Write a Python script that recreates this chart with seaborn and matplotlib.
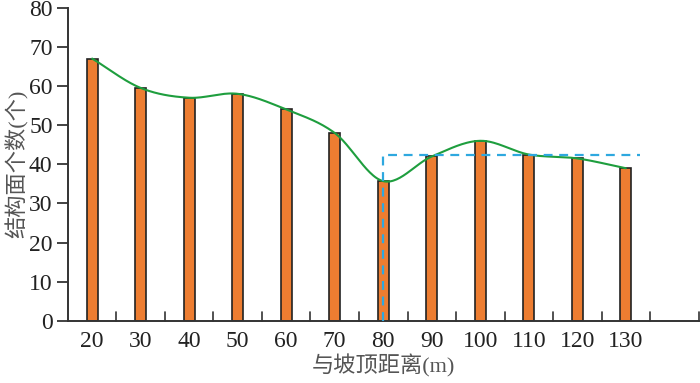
import numpy as np
import pandas as pd
import matplotlib
matplotlib.use("Agg")
import matplotlib.pyplot as plt
import seaborn as sns

# 数据
distances = [20, 30, 40, 50, 60, 70, 80, 90, 100, 110, 120, 130]
counts = [67, 59.5, 57, 58, 54, 48, 35.7, 42, 46, 42.5, 41.5, 39]
ref_level = 42.3          # 蓝色虚线的水平
ref_start = 80            # 虚线起点距离
ref_end_pos = 11.3        # 虚线终点(类别位置)

sns.set_theme(style="white")
plt.rcParams["font.family"] = ["Liberation Serif", "Noto Sans CJK SC"]
plt.rcParams["font.size"] = 17

df = pd.DataFrame({"dist": [str(d) for d in distances], "count": counts})

fig = plt.figure(figsize=(7, 3.83), dpi=100)
ax = fig.add_axes([0.097, 0.162, 0.901, 0.818])

sns.barplot(data=df, x="dist", y="count", color="#ED7D31", saturation=1,
            width=0.23, edgecolor="#222222", linewidth=1.2, ax=ax, zorder=2)


# 平滑曲线 (Catmull-Rom, 类似 Excel 的平滑线)
def smooth(xs, ys, n=30):
    xs = np.asarray(xs, float)
    ys = np.asarray(ys, float)
    px = np.concatenate([[2 * xs[0] - xs[1]], xs, [2 * xs[-1] - xs[-2]]])
    py = np.concatenate([[2 * ys[0] - ys[1]], ys, [2 * ys[-1] - ys[-2]]])
    outx, outy = [], []
    t = np.linspace(0, 1, n)
    for i in range(1, len(px) - 2):
        for arr, out in ((px, outx), (py, outy)):
            p0, p1, p2, p3 = arr[i - 1], arr[i], arr[i + 1], arr[i + 2]
            out.extend(0.5 * ((2 * p1) + (-p0 + p2) * t
                              + (2 * p0 - 5 * p1 + 4 * p2 - p3) * t ** 2
                              + (-p0 + 3 * p1 - 3 * p2 + p3) * t ** 3))
    return np.array(outx), np.array(outy)


pos = np.arange(len(distances))
sx, sy = smooth(pos, counts)
ax.plot(sx, sy, color="#1E9E3E", lw=1.5, zorder=3)

# 蓝色虚线
i80 = distances.index(ref_start)
ax.plot([i80, i80, ref_end_pos], [0, ref_level, ref_level], color="#2EA8DF",
        lw=1.6, ls=(0, (4, 3)), zorder=4)

ax.set_xlim(-0.5, 12.5)
ax.set_ylim(0, 80)
ax.set_yticks(range(0, 81, 10))
ax.set_xticks(pos)
ax.set_xticklabels([str(d) for d in distances])
ax.tick_params(axis="x", length=0, pad=7, labelsize=17, colors="#222222")
ax.tick_params(axis="y", direction="out", length=8, width=1.2, pad=3,
               labelsize=17, colors="#222222", left=True)
for lbl in ax.get_yticklabels():
    lbl.set_verticalalignment("center_baseline")
for b in np.arange(0.5, 12.6, 1):
    ax.plot([b, b], [0, 2.2], color="#333333", lw=1.2, clip_on=False, zorder=5)

for s in ["top", "right"]:
    ax.spines[s].set_visible(False)
for s in ["left", "bottom"]:
    ax.spines[s].set_color("#333333")
    ax.spines[s].set_linewidth(1.4)

ax.set_xlabel("与坡顶距离(m)", fontsize=16, color="#555555", labelpad=2)
ax.set_ylabel("结构面个数(个)", fontsize=16, color="#555555", labelpad=0)

fig.savefig("out.png", dpi=100)
